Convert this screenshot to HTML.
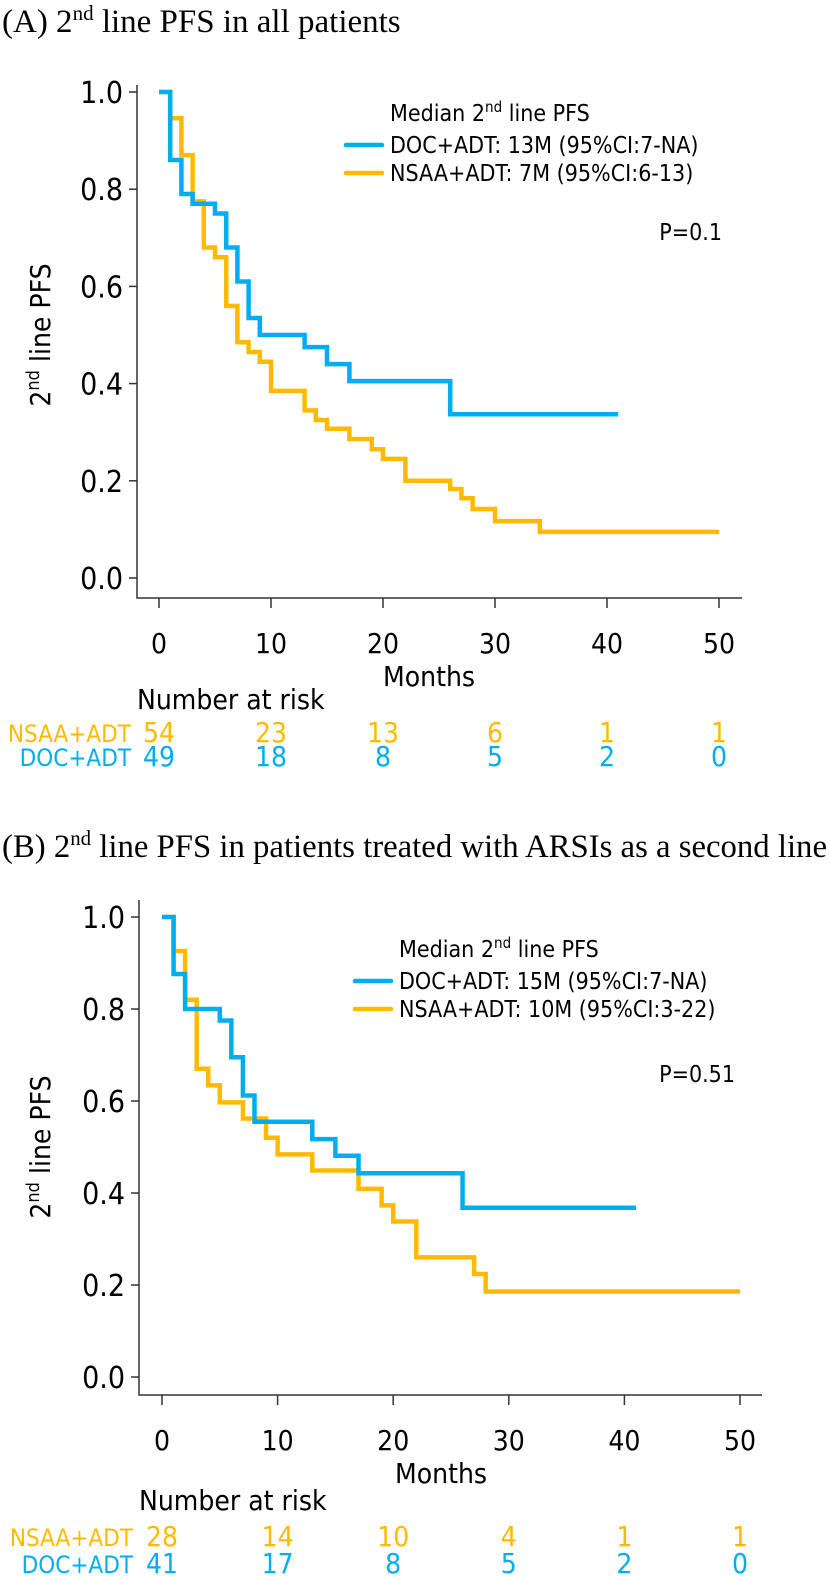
<!DOCTYPE html>
<html><head><meta charset="utf-8"><style>
html,body{margin:0;padding:0;background:#fff;}
svg{display:block;}
.t{font-family:"Liberation Serif",serif;font-size:33px;fill:#000;}
.s{font-family:"DejaVu Sans Condensed","Liberation Sans Narrow","Liberation Sans",sans-serif;fill:#000;}
</style></head><body>
<svg id="chart" width="830" height="1576" viewBox="0 0 830 1576" xmlns="http://www.w3.org/2000/svg">
<text class="t" x="2" y="32">(A) 2<tspan font-size="21" dy="-12">nd</tspan><tspan dy="12"> line PFS in all patients</tspan></text>
<text class="t" x="2" y="857" textLength="825" lengthAdjust="spacingAndGlyphs">(B) 2<tspan font-size="21" dy="-12">nd</tspan><tspan dy="12"> line PFS in patients treated with ARSIs as a second line</tspan></text>
<g id="pa"></g>
<g id="pb"></g>
</svg>
<script>
// Panel A data
const aDocT = [0,1,2,3,5,6,7,8,9,13,15,17,26,41];
const aDocS = [1.0,0.86,0.79,0.77,0.75,0.68,0.61,0.535,0.50,0.475,0.44,0.405,0.337,0.337];
const aNsaaT = [0,1,2,3,4,5,6,7,8,9,10,13,14,15,17,19,20,22,26,27,28,30,34,50];
const aNsaaS = [1.0,0.946,0.87,0.775,0.68,0.66,0.56,0.485,0.465,0.445,0.385,0.345,0.325,0.307,0.286,0.265,0.245,0.20,0.183,0.164,0.142,0.117,0.095,0.095];
const aRiskNsaa = [54,23,13,6,1,1];
const aRiskDoc = [49,18,8,5,2,0];
const aLegendDoc = "DOC+ADT:  13M (95%CI:7-NA)";
const aLegendNsaa = "NSAA+ADT:  7M (95%CI:6-13)";
const aP = "P=0.1";
// Panel B data
const bDocT = [0,1,2,5,6,7,8,13,15,17,26,41];
const bDocS = [1.0,0.876,0.80,0.775,0.695,0.612,0.555,0.517,0.481,0.443,0.368,0.368];
const bNsaaT = [0,1,2,3,4,5,7,9,10,13,17,19,20,22,27,28,50];
const bNsaaS = [1.0,0.926,0.82,0.67,0.634,0.597,0.562,0.52,0.484,0.449,0.409,0.373,0.338,0.26,0.224,0.186,0.186];
const bRiskNsaa = [28,14,10,4,1,1];
const bRiskDoc = [41,17,8,5,2,0];
const bLegendDoc = "DOC+ADT:   15M (95%CI:7-NA)";
const bLegendNsaa = "NSAA+ADT:  10M (95%CI:3-22)";
const bP = "P=0.51";
// shared ticks
const xTicks = [0,10,20,30,40,50];
const yTicks = [0.0,0.2,0.4,0.6,0.8,1.0];

const NS = "http://www.w3.org/2000/svg";
const BLUE = "#00aeef", ORANGE = "#ffba00";
function mk(parent, tag, attrs, text){
  const e = document.createElementNS(NS, tag);
  for (const k in attrs) e.setAttribute(k, attrs[k]);
  if (text !== undefined) e.textContent = text;
  parent.appendChild(e);
  return e;
}
function panel(g, L, d){
  const xs = v => L.x0 + (L.x50 - L.x0) * v / 50;
  const ys = v => L.y0 - (L.y0 - L.y1) * v;
  const ax = mk(g,'path',{d:`M${L.ax} ${L.top} V${L.bot} H${L.right}`,stroke:'#333',fill:'none','stroke-width':1.5});
  
  
  yTicks.forEach(v=>{
    const tk = mk(g,'line',{x1:L.ax-8,x2:L.ax,y1:ys(v),y2:ys(v),stroke:'#333','stroke-width':1.5});
    
    
    const tl = mk(g,'text',{x:L.ax-14,y:ys(v)+11,'text-anchor':'end','font-size':30,class:'s'},v.toFixed(1));
    
    
  });
  xTicks.forEach(v=>{
    const tk = mk(g,'line',{x1:xs(v),x2:xs(v),y1:L.bot,y2:L.bot+10,stroke:'#333','stroke-width':1.5});
    
    
    const tl = mk(g,'text',{x:xs(v),y:L.bot+55,'text-anchor':'middle','font-size':28,class:'s'},String(v));
    
    
  });
  const xt = mk(g,'text',{x:(xs(0)+xs(50))/2 - 10,y:L.bot+88,'text-anchor':'middle','font-size':28,class:'s'},'Months');
  
  
  const cy = (ys(0)+ys(1))/2;
  const yt = mk(g,'text',{x:0,y:0,'font-size':28,class:'s','text-anchor':'middle',transform:`translate(50 ${cy}) rotate(-90)`});
  
  
  mk(yt,'tspan',{},'2');
  mk(yt,'tspan',{'font-size':18,dy:-11},'nd');
  mk(yt,'tspan',{dy:11},' line PFS');
  function curve(T,S,color,name){
    let p = `M${xs(T[0])} ${ys(S[0])}`;
    for (let i=1;i<T.length;i++){ p += ` H${xs(T[i])} V${ys(S[i])}`; }
    const c = mk(g,'path',{d:p,stroke:color,fill:'none','stroke-width':4.5,'stroke-linejoin':'miter'});
    
    
  }
  curve(d.nT,d.nS,ORANGE,'nsaa-adt-curve');
  curve(d.dT,d.dS,BLUE,'doc-adt-curve');
  const lh = mk(g,'text',{x:L.lx+44,y:L.ly,'font-size':23,class:'s'});
  
  
  mk(lh,'tspan',{},'Median 2');
  mk(lh,'tspan',{'font-size':15,dy:-9},'nd');
  mk(lh,'tspan',{dy:9},' line PFS');
  [[d.ld,BLUE,'legend-doc-adt'],[d.ln,ORANGE,'legend-nsaa-adt']].forEach((e,i)=>{
    const yy = L.ly + 32 + i*28;
    const ln = mk(g,'line',{x1:L.lx,x2:L.lx+36,y1:yy-8,y2:yy-8,stroke:e[1],'stroke-width':4.5,'stroke-linecap':'round'});
    
    
    const tx = mk(g,'text',{x:L.lx+44,y:yy,'font-size':23,class:'s','xml:space':'preserve'},e[0]);
    
    
  });
  const pt = mk(g,'text',{x:L.px,y:L.py,'font-size':23,class:'s','text-anchor':'end'},d.p);
  
  
  const rt = mk(g,'text',{x:L.ax,y:L.rt,'font-size':28,class:'s'},'Number at risk');
  
  
  [[d.rn,ORANGE,'NSAA+ADT','risk-row-nsaa'],[d.rd,BLUE,'DOC+ADT','risk-row-doc']].forEach((r,i)=>{
    const yy = L.rr + i*L.rg;
    const lab = mk(g,'text',{x:L.ax-6,y:yy,'font-size':24,'text-anchor':'end',class:'s',style:'fill:'+r[1]},r[2]);
    
    
    r[0].forEach((n,j)=>{
      const t = mk(g,'text',{x:xs(xTicks[j]),y:yy,'font-size':28,'text-anchor':'middle',class:'s',style:'fill:'+r[1]},String(n));
      
      
    });
  });
}
panel(document.getElementById('pa'),
  {ax:137,top:85,bot:598,right:742,x0:159,x50:719,y0:578,y1:92,lx:346,ly:121,px:722,py:240,rt:709,rr:742,rg:24},
  {dT:aDocT,dS:aDocS,nT:aNsaaT,nS:aNsaaS,rn:aRiskNsaa,rd:aRiskDoc,ld:aLegendDoc,ln:aLegendNsaa,p:aP});
panel(document.getElementById('pb'),
  {ax:139,top:900,bot:1395,right:762,x0:162,x50:740,y0:1377,y1:917,lx:355,ly:957,px:735,py:1082,rt:1510,rr:1546,rg:27},
  {dT:bDocT,dS:bDocS,nT:bNsaaT,nS:bNsaaS,rn:bRiskNsaa,rd:bRiskDoc,ld:bLegendDoc,ln:bLegendNsaa,p:bP});
</script>
</body></html>
